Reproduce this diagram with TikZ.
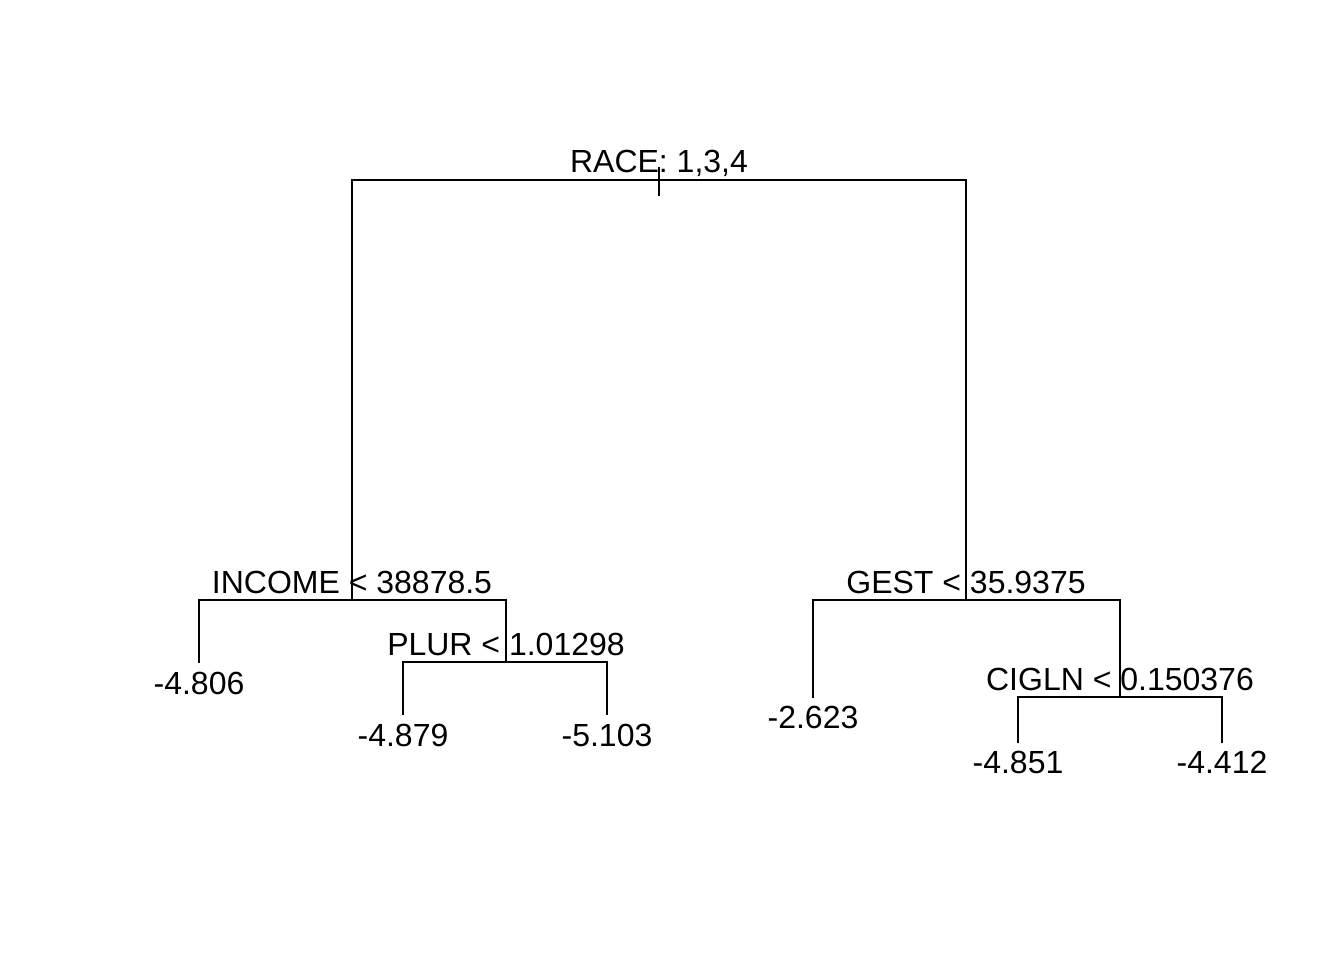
\documentclass[tikz,border=0pt]{standalone}
\usepackage{fontspec}
\setmainfont{Liberation Sans}
\usepackage{tikz}
\begin{document}
\begin{tikzpicture}[
      x=1pt,y=-1pt,
      font=\fontsize{32}{38}\selectfont,
      edge/.style={line width=2pt,line cap=rect},
      split/.style={anchor=base,inner sep=0pt},
      leaf/.style={anchor=base,inner sep=0pt}
    ]
      \useasboundingbox (0,0) rectangle (1344,960);
      % split points
      \coordinate (race) at (659,180);
      \coordinate (income) at (352,600);
      \coordinate (plur) at (506,662);
      \coordinate (gest) at (966,600);
      \coordinate (cigln) at (1120,697);
      % leaf ends
      \coordinate (l1) at (199,662);
      \coordinate (l2) at (403,714);
      \coordinate (l3) at (607,714);
      \coordinate (l4) at (813,697);
      \coordinate (l5) at (1018,742);
      \coordinate (l6) at (1222,742);
      \coordinate (stemtop) at (659,168);
      \coordinate (stembot) at (659,195);
      % split labels
      \node[split] (raceLab) at (659,172.5) {RACE: 1,3,4};
      \node[split] (incomeLab) at (352,593) {INCOME < 38878.5};
      \node[split] (plurLab) at (506,655) {PLUR < 1.01298};
      \node[split] (gestLab) at (966,593) {GEST < 35.9375};
      \node[split] (ciglnLab) at (1120,690) {CIGLN < 0.150376};
      % leaf labels
      \node[leaf] (v1) at (199,694) {-4.806};
      \node[leaf] (v2) at (403,746) {-4.879};
      \node[leaf] (v3) at (607,746) {-5.103};
      \node[leaf] (v4) at (813,728) {-2.623};
      \node[leaf] (v5) at (1018,773) {-4.851};
      \node[leaf] (v6) at (1222,773) {-4.412};
      % branches
      \draw[edge] (stemtop) -- (stembot);
      \draw[edge] (income) |- (race) -| (gest);
      \draw[edge] (l1) |- (income) -| (plur);
      \draw[edge] (l2) |- (plur) -| (l3);
      \draw[edge] (l4) |- (gest) -| (cigln);
      \draw[edge] (l5) |- (cigln) -| (l6);
    \end{tikzpicture}
\end{document}
